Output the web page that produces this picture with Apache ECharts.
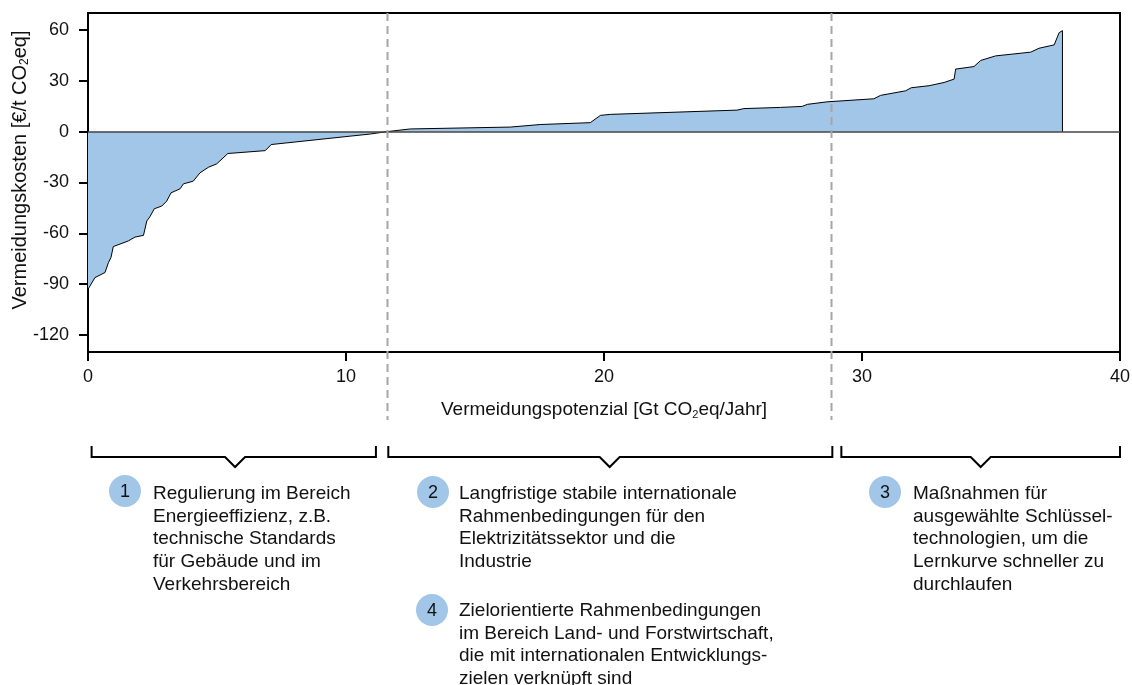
<!DOCTYPE html>
<html><head><meta charset="utf-8">
<script src="https://cdn.jsdelivr.net/npm/echarts@6/dist/echarts.min.js"></script>
<style>html,body{margin:0;padding:0;background:#fff}#c{width:1132px;height:685px}</style>
</head><body><div id="c"></div>
<script>
// ---- data ----
const potential = [0, 0.27, 0.66, 0.79, 0.89, 0.98, 1.56, 1.82, 2.15, 2.28, 2.40, 2.57, 2.86, 3.05, 3.22, 3.57, 3.70, 4.08, 4.34, 4.67, 4.99, 5.42, 6.87, 7.10, 10.94, 11.58, 12.49, 16.37, 17.53, 19.47, 19.86, 20.25, 25.16, 25.42, 26.84, 27.68, 27.88, 28.65, 30.46, 30.72, 31.69, 31.91, 32.60, 33.18, 33.57, 33.63, 34.34, 34.60, 35.18, 36.54, 36.86, 37.45, 37.64, 37.77, 37.77];
const cost = [-93, -86.1, -83.1, -77.3, -74.3, -67.8, -64.5, -62.2, -61.2, -52.7, -50.2, -45.5, -43.9, -41, -36.1, -33.7, -30.8, -29.2, -24.3, -21, -19, -12.9, -11.2, -7.6, -1.4, 0, 1.6, 2.7, 4.2, 5.3, 9.6, 10.2, 12.7, 13.6, 14.3, 14.9, 16.1, 17.6, 19.4, 21.4, 24.1, 25.9, 27.1, 29, 31, 36.9, 38.4, 42, 44.7, 46.9, 49.2, 51.2, 58.4, 59.6, 0];
const yTicks = [60, 30, 0, -30, -60, -90, -120];
const xTicks = [0, 10, 20, 30, 40];
const dividers = [11.6, 28.8];
const groupFrom = [0.14, 11.64, 29.2];
const groupTo = [11.16, 28.85, 40];
const groupNotch = [5.7, 20.22, 34.6];
const yTitle = 'Vermeidungskosten [€/t CO{sub|2}eq]';
const xTitle = 'Vermeidungspotenzial [Gt CO{sub|2}eq/Jahr]';
const noteNumbers = ['1', '2', '3', '4'];
const noteLines = [
  ['Regulierung im Bereich', 'Energieeffizienz, z.B.', 'technische Standards', 'für Gebäude und im', 'Verkehrsbereich'],
  ['Langfristige stabile internationale', 'Rahmenbedingungen für den', 'Elektrizitätssektor und die', 'Industrie'],
  ['Maßnahmen für', 'ausgewählte Schlüssel-', 'technologien, um die', 'Lernkurve schneller zu', 'durchlaufen'],
  ['Zielorientierte Rahmenbedingungen', 'im Bereich Land- und Forstwirtschaft,', 'die mit internationalen Entwicklungs-', 'zielen verknüpft sind']
];

// ---- layout / style ----
const FONT = '"Liberation Sans", Arial, Helvetica, sans-serif';
const FS = 19;
const BLUE = '#a2c6e7';
const subRich = { sub: { fontSize: 11, fontFamily: FONT, color: '#111', verticalAlign: 'bottom', padding: [9, 0, 0, 0] } };

const chart = echarts.init(document.getElementById('c'));
const seriesData = potential.map((x, i) => [x, cost[i]]);

chart.setOption({
  animation: false,
  grid: { left: 88, right: 12, top: 13, bottom: 333, outerBoundsMode: 'none', containLabel: false, show: true, borderColor: '#000', borderWidth: 2, backgroundColor: 'transparent' },
  xAxis: {
    type: 'value', min: xTicks[0], max: xTicks[xTicks.length - 1], interval: 10,
    axisLine: { onZero: false, lineStyle: { color: '#000', width: 2 } },
    axisTick: { length: 9, lineStyle: { color: '#000', width: 2 } },
    axisLabel: { margin: 16, fontSize: 18, fontFamily: FONT, color: '#111' },
    splitLine: { show: false },
    name: xTitle, nameLocation: 'middle', nameGap: 48,
    nameTextStyle: { fontSize: FS, fontFamily: FONT, color: '#111', verticalAlign: 'top', rich: subRich }
  },
  yAxis: {
    type: 'value', min: -130, max: 70,
    axisLine: { onZero: false, lineStyle: { color: '#000', width: 2 } },
    axisTick: { length: 9, customValues: yTicks, lineStyle: { color: '#000', width: 2 } },
    axisLabel: { margin: 19, customValues: yTicks, fontSize: 18, fontFamily: FONT, color: '#111' },
    splitLine: { show: false }
  },
  series: [{
    type: 'line', data: seriesData, symbol: 'none', silent: true,
    lineStyle: { color: '#000', width: 1 },
    areaStyle: { color: BLUE, opacity: 1, origin: 0 },
    markLine: {
      silent: true, symbol: 'none', label: { show: false },
      lineStyle: { color: '#444', width: 1.5, type: 'solid' },
      data: [{ yAxis: 0 }]
    }
  }]
});

// ---- annotations built from axis scale ----
const px = (x, y) => chart.convertToPixel({ gridIndex: 0 }, [x, y]);
const plotTop = px(0, 70)[1];
const graphics = [];
graphics.push({ type: 'text', silent: true, x: 20, y: 170, rotation: Math.PI / 2,
  style: { text: yTitle, font: '20px ' + FONT, fill: '#111', align: 'center', verticalAlign: 'middle',
    rich: { sub: { fontSize: 12, fontFamily: FONT, fill: '#111', verticalAlign: 'bottom', padding: [9, 0, 0, 0] } } } });
dividers.forEach(d => {
  const x = Math.round(px(d, 0)[0]) + 0.5;
  graphics.push({ type: 'line', silent: true, z: 50,
    shape: { x1: x, y1: plotTop, x2: x, y2: 420 },
    style: { stroke: '#a6a6a6', lineWidth: 2, lineDash: [8, 5] } });
});
const bY = 457, bTop = 446, nW = 10, nD = 10;
groupFrom.forEach((f, i) => {
  const x1 = px(f, 0)[0], x2 = px(groupTo[i], 0)[0], xn = px(groupNotch[i], 0)[0];
  graphics.push({ type: 'polyline', silent: true,
    shape: { points: [[x1, bTop], [x1, bY], [xn - nW, bY], [xn, bY + nD], [xn + nW, bY], [x2, bY], [x2, bTop]] },
    style: { stroke: '#000', lineWidth: 2, fill: null } });
});
const noteLayout = [
  { cx: 125, cy: 491, tx: 153, ty: 494 },
  { cx: 433, cy: 492, tx: 459, ty: 494 },
  { cx: 885, cy: 492, tx: 913, ty: 494 },
  { cx: 432, cy: 610, tx: 459, ty: 611 }
];
const LH = 22.6;
noteLayout.forEach((L, i) => {
  graphics.push({ type: 'circle', silent: true, shape: { cx: L.cx, cy: L.cy, r: 16 }, style: { fill: BLUE } });
  graphics.push({ type: 'text', silent: true, style: { x: L.cx, y: L.cy + 1, text: noteNumbers[i], font: '18px ' + FONT, fill: '#111', align: 'center', verticalAlign: 'middle' } });
  graphics.push({ type: 'text', silent: true, style: { x: L.tx, y: L.ty - LH / 2, text: noteLines[i].join('\n'), font: FS + 'px ' + FONT, fill: '#111', align: 'left', verticalAlign: 'top', lineHeight: LH } });
});
chart.setOption({ graphic: graphics });
</script></body></html>
